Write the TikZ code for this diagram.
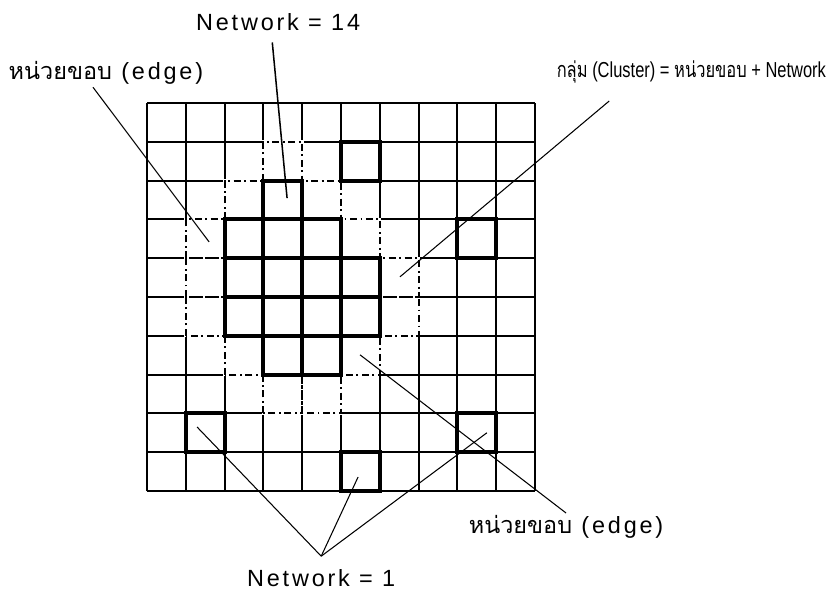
\documentclass[tikz,border=0pt]{standalone}
\usepackage{fontspec}
\setmainfont{Liberation Sans}[LetterSpace=12]
\newfontfamily\tightfont{Liberation Sans}
\newfontfamily\thaifont[Script=Thai]{Loma}
\begin{document}
\begin{tikzpicture}[x=1.164cm, y=1.164cm,
  gridline/.style={line width=1.6pt},
  netcell/.style={line width=3.4pt},
  erase/.style={white,line width=2.4pt},
  edgeline/.style={line width=1.6pt, dash pattern=on 6pt off 3pt on 1.6pt off 3pt},
  leader/.style={line width=0.9pt},
  lbl/.style={font=\fontsize{20}{24}\selectfont, inner sep=2pt}]
\useasboundingbox (-3.789,-2.629) rectangle (17.758,12.655);
% grid 10 x 10
\draw[gridline] (0,0) grid[step={(1,1)}] (10,10);
% edge cells (dash-dot)
\foreach \c/\r in {3/8, 2/7, 4/7, 1/6, 5/6, 1/5, 6/5, 1/4, 6/4, 2/3, 5/3, 3/2, 4/2}
  \draw[erase] (\c,\r) rectangle ++(1,1);
\foreach \c/\r in {3/8, 2/7, 4/7, 1/6, 5/6, 1/5, 6/5, 1/4, 6/4, 2/3, 5/3, 3/2, 4/2}
  \draw[edgeline] (\c,\r) rectangle ++(1,1);
% network cells
\foreach \c/\r in {3/7, 2/6, 3/6, 4/6, 2/5, 3/5, 4/5, 5/5, 2/4, 3/4, 4/4, 5/4, 3/3, 4/3,
  5/8, 8/6, 1/1, 8/1, 5/0}
  \draw[netcell] (\c,\r) rectangle ++(1,1);
% labels
\node[lbl] (net14) at (3.38,12.09) {Network = 14};
\node[lbl] (edgeA) at (-1.06,10.77) {{\thaifont หน่วยขอบ} (edge)};
\node[lbl,font=\fontsize{18.5}{22}\selectfont] (clust) at (14.03,10.80)
  {\scalebox{0.76}[1]{\tightfont{\thaifont กลุ่ม} (Cluster) = {\thaifont หน่วยขอบ} + Network}};
\node[lbl] (edgeB) at (10.80,-0.93) {{\thaifont หน่วยขอบ} (edge)};
\node[lbl] (net1) at (4.49,-2.24) {Network = 1};
% ends inside the cells
\coordinate (c3r2) at (3.61,7.55);
\coordinate (c1r3) at (1.60,6.42);
\coordinate (c6r4) at (6.52,5.52);
\coordinate (c5r6) at (5.49,3.51);
\coordinate (c1r8) at (1.29,1.65);
\coordinate (c5r9) at (5.44,0.36);
\coordinate (c8r8) at (8.76,1.50);
% leaders
\draw[leader,line width=1.3pt] ([xshift=-5pt,yshift=-8pt]net14.south) -- (c3r2);
\draw[leader] ([xshift=-11pt]edgeA.south) -- (c1r3);
\draw[leader] ([xshift=47pt,yshift=-13pt]clust.south west) -- (c6r4);
\draw[leader] (edgeB.north) -- (c5r6);
\draw[leader] ([yshift=9pt]net1.north) -- (c1r8);
\draw[leader] ([yshift=9pt]net1.north) -- (c5r9);
\draw[leader] ([yshift=9pt]net1.north) -- (c8r8);
\end{tikzpicture}
\end{document}
